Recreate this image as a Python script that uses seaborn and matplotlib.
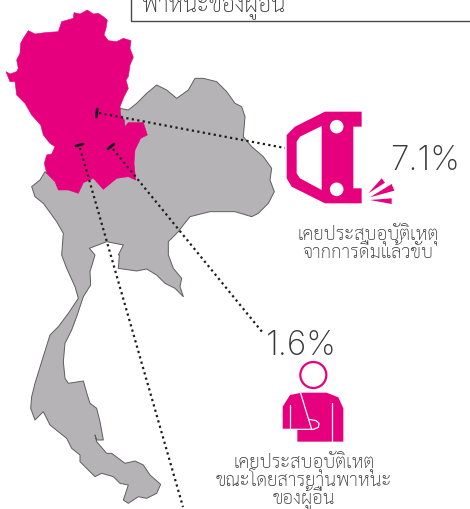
import matplotlib
matplotlib.use('Agg')
import matplotlib.pyplot as plt
import pandas as pd
import seaborn as sns
from matplotlib.patches import Circle, Polygon, Rectangle

# outlines at 3x, (x, y) pairs, grouped by crop offset
north_region = [(18, 215), (30, 222), (50, 215), (55, 205), (50, 180), (60, 160), (62, 130), (70, 115),
                (85, 92), (105, 102), (135, 98), (175, 95), (185, 65), (220, 55), (222, 38), (240, 42),
                (262, 30), (280, 42), (295, 40), (310, 50), (322, 60), (318, 85), (312, 105), (325, 122),
                (350, 125), (370, 115), (393, 122), (390, 145), (400, 172), (390, 195), (385, 230),
                (378, 240), (385, 265), (372, 290), (360, 320), (362, 345), (373, 360), (375, 380),
                (385, 368), (430, 368), (442, 405), (422, 415), (405, 450), (402, 490), (407, 540),
                (385, 530), (350, 535), (310, 568), (280, 535), (250, 548), (235, 580), (205, 570),
                (175, 570), (165, 545), (140, 520), (133, 490), (140, 465), (155, 462), (165, 440),
                (150, 430), (130, 405), (122, 375), (95, 345), (75, 310), (50, 285), (45, 245), (30, 245)]

northeast_a = [(360, 325), (385, 330), (410, 310), (440, 280), (470, 255), (500, 270), (530, 295),
               (565, 270), (585, 235), (610, 235), (650, 245), (680, 275), (705, 310)]
northeast_b = [(20, 320), (30, 350), (25, 410), (50, 440), (85, 470), (110, 505), (105, 540), (118, 575),
               (100, 610), (70, 640), (50, 650), (0, 635)]
east_c = [(630, 635), (570, 650), (550, 675), (535, 695), (505, 725), (505, 765)]
southeast = [(520, 40), (545, 70), (540, 95), (550, 125), (525, 100), (495, 85), (470, 60), (440, 42),
             (410, 48), (355, 40), (358, 0)]
gulf_top = [(355, 765), (370, 735), (320, 725), (268, 745), (285, 765)]
peninsula = [(270, 50), (272, 90), (250, 125), (230, 185), (215, 225), (195, 265), (190, 320), (195, 370),
             (205, 385), (250, 378), (262, 420), (270, 445), (290, 460), (300, 500), (310, 555), (290, 555),
             (285, 540), (290, 560), (320, 595), (335, 595), (375, 625), (405, 618), (430, 630), (450, 660),
             (482, 688), (470, 715), (440, 730), (415, 725), (385, 745), (370, 735), (385, 690), (360, 685),
             (340, 665), (305, 655), (285, 665), (270, 650), (240, 620), (240, 600), (215, 580), (200, 550),
             (175, 530), (150, 510), (130, 470), (105, 495), (92, 460), (95, 425), (105, 385), (125, 320),
             (150, 240), (175, 215), (205, 175), (235, 130), (225, 95), (200, 40), (185, 0)]
west_d = [(190, 700), (170, 665), (130, 610), (105, 590), (95, 560), (120, 540), (135, 515), (140, 520)]

# car icon
car_body = [(155, 405), (180, 380), (270, 335), (380, 335), (380, 380), (355, 380), (355, 565), (380, 565),
            (380, 610), (270, 610), (170, 560), (155, 535)]
car_window = [(260, 378), (195, 410), (185, 425), (185, 520), (195, 535), (260, 570)]
car_wheels = [(305, 380), (305, 568)]
car_sparks = [[(400, 580), (440, 535), (450, 548)], [(405, 592), (470, 552), (478, 572)],
              [(405, 600), (470, 595), (470, 612)]]

# injured passenger icon
body = [(218, 260), (218, 330), (262, 330), (262, 365), (400, 365), (400, 265), (385, 232), (350, 218),
        (275, 218), (240, 225)]
sling_lines = [[(272, 220), (305, 328)], [(240, 255), (240, 325)], [(366, 250), (366, 365)],
               [(218, 328), (310, 328), (325, 322), (327, 310), (318, 302), (298, 298)]]

# leader lines
leader_drink = [(99, 113), (285, 148)]
leader_passenger = [(113, 149), (263, 333)]
leader_third = [(80, 148), (183, 507)]
ticks = [[(97.3, 109), (96.3, 117)], [(76, 146), (83, 144)], [(108, 149), (114, 144)]]

pct_drink = '7.1%'
pct_passenger = '1.6%'
title_tail = 'พาหนะของผู้อื่น'
label_drink = ['เคยประสบอุบัติเหตุ', 'จากการดื่มแล้วขับ']
label_passenger = ['เคยประสบอุบัติเหตุ', 'ขณะโดยสารยานพาหนะ', 'ของผู้อื่น']

PINK = '#e6007e'
GREY = '#b6b3b6'
THAI = ['Sarabun', 'Loma', 'DejaVu Sans']
NUMS = ['Inter', 'DejaVu Sans']


def px(points, dx=0, dy=0):
    """traced 3x crop coordinates -> picture pixels"""
    return [(x / 3 + dx, y / 3 + dy) for x, y in points]


def line(ax, points, **kw):
    df = pd.DataFrame(points, columns=['x', 'y'])
    sns.lineplot(data=df, x='x', y='y', sort=False, estimator=None, ax=ax, **kw)


sns.set_theme(style='white')
plt.rcParams['font.family'] = THAI

fig = plt.figure(figsize=(4.7, 5.09), dpi=100)
ax = fig.add_axes([0, 0, 1, 1])

country = (px(northeast_a) + px(northeast_b, 235) + px(east_c) + px(southeast, 0, 255)
           + px(gulf_top) + px(peninsula, 0, 255) + px(west_d))
country.append(country[0])
ax.add_patch(Polygon(country, closed=True, facecolor=GREY, edgecolor='none', zorder=1))
line(ax, country, color='#5f5d5f', linewidth=0.7, zorder=2)
ax.add_patch(Polygon(px(north_region), closed=True, facecolor=PINK, edgecolor=PINK, linewidth=0.4, zorder=3))

# dotted leaders and their end ticks
for lead in (leader_drink, leader_passenger, leader_third):
    line(ax, lead, color='#1c1c1c', linewidth=1.6, linestyle=(0, (1, 1.5)), zorder=4)
for t in ticks:
    line(ax, t, color='#1c1c1c', linewidth=2.0, zorder=4)

# car
ax.add_patch(Polygon(px(car_body, 235), closed=True, facecolor=PINK, edgecolor='none', zorder=3))
ax.add_patch(Polygon(px(car_window, 235), closed=True, facecolor='white', edgecolor='none', zorder=4))
for c in px(car_wheels, 235):
    ax.add_patch(Circle(c, 6.8, facecolor='white', edgecolor='none', zorder=4))
for s in car_sparks:
    ax.add_patch(Polygon(px(s, 235), closed=True, facecolor=PINK, edgecolor='none', zorder=3))

# passenger
ox, oy = 210, 320
head = px([(310, 165)], ox, oy)[0]
ax.add_patch(Circle(head, 13, facecolor='white', edgecolor=PINK, linewidth=1.6, zorder=3))
ax.add_patch(Polygon(px(body, ox, oy), closed=True, facecolor=PINK, edgecolor='none', zorder=3))
for s in sling_lines:
    line(ax, px(s, ox, oy), color='white', linewidth=0.9, zorder=4)

# title box, runs off the top and the right of the picture
ax.add_patch(Rectangle((131, -10), 345, 30.5, facecolor='white', edgecolor='#4a4a4a', linewidth=1.0, zorder=3))
ax.text(142, 11, title_tail, fontsize=16.5, color='#333333', fontweight='light', va='baseline', zorder=5,
        clip_on=True)

ax.text(390, 170, pct_drink, fontsize=24, family=NUMS, fontweight='light', color='#3a3a3a', va='baseline', ha='left', zorder=5)
ax.text(266, 355, pct_passenger, fontsize=24, family=NUMS, fontweight='light', color='#3a3a3a', va='baseline', ha='left', zorder=5)

for txt, y in zip(label_drink, [240, 258]):
    ax.text(368, y, txt, fontsize=13.5, color='#333333', fontweight='light', ha='center', va='baseline', zorder=5)
for txt, y in zip(label_passenger, [468, 486, 503]):
    ax.text(304, y, txt, fontsize=13.5, color='#333333', fontweight='light', ha='center', va='baseline', zorder=5)

ax.set_xlim(0, 470)
ax.set_ylim(509, 0)
ax.axis('off')
fig.savefig('out.png', dpi=100)
